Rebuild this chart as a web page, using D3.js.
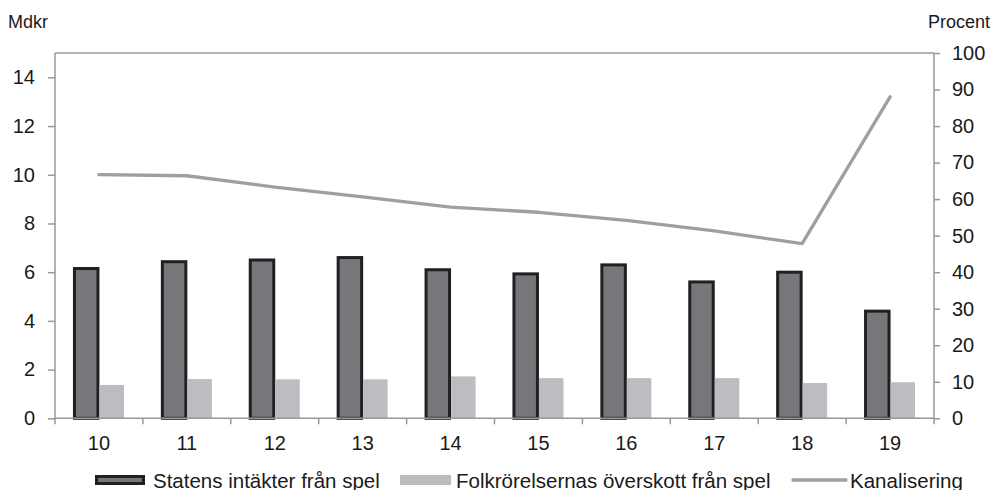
<!DOCTYPE html>
<html><head><meta charset="utf-8">
<script src="https://cdn.jsdelivr.net/npm/d3@7"></script>
<style>body{margin:0;background:#fff}svg{display:block}text{font-family:"Liberation Sans",Arial,sans-serif;fill:#1a1a1a}</style>
</head><body><svg id="c" width="992" height="490"></svg>
<script>
const categories = ["10","11","12","13","14","15","16","17","18","19"];
const statens = [6.15, 6.43, 6.5, 6.6, 6.1, 5.93, 6.3, 5.6, 6.0, 4.4];
const folkrorelser = [1.37, 1.61, 1.6, 1.6, 1.72, 1.65, 1.65, 1.65, 1.45, 1.48];
const kanalisering = [66.7, 66.4, 63.3, 60.6, 57.8, 56.4, 54.2, 51.3, 47.8, 88.0];
const leftTicks = [0,2,4,6,8,10,12,14];
const rightTicks = [0,10,20,30,40,50,60,70,80,90,100];
const seriesNames = ["Statens intäkter från spel","Folkrörelsernas överskott från spel","Kanalisering"];

const svg = d3.select("#c");
const L = 55, R = 934, T = 53, B = 418.3;
const axisCol = "#97989b";
const x = d3.scaleBand().domain(categories).range([L, R]);
const yL = d3.scaleLinear().domain([0, 15]).range([B, T]);
const yR = d3.scaleLinear().domain([0, 100]).range([B, T]);
const bw = 25;

// frame top
svg.append("line").attr("x1", L).attr("x2", R).attr("y1", T).attr("y2", T).attr("stroke", axisCol).attr("stroke-width", 1.5);

// bars
svg.selectAll(".b1").data(statens).join("rect")
  .attr("x", (d,i) => x(categories[i]) + x.bandwidth()/2 - bw + 0.5)
  .attr("y", d => yL(d))
  .attr("width", bw - 1.5)
  .attr("height", d => B - yL(d))
  .attr("fill", "#76777a").attr("stroke", "#231f20").attr("stroke-width", 3);
svg.selectAll(".b2").data(folkrorelser).join("rect")
  .attr("x", (d,i) => x(categories[i]) + x.bandwidth()/2 + 0.5)
  .attr("y", d => yL(d))
  .attr("width", bw - 0.5)
  .attr("height", d => B - yL(d))
  .attr("fill", "#bcbdc0");

// line
const line = d3.line().x((d,i) => x(categories[i]) + x.bandwidth()/2).y(d => yR(d));
svg.append("path").attr("d", line(kanalisering)).attr("fill", "none")
  .attr("stroke", "#9d9fa2").attr("stroke-width", 3.3).attr("stroke-linecap", "round").attr("stroke-linejoin", "round");

// axes
function styleAxis(g){
  g.select(".domain").remove();
  g.selectAll(".tick line").attr("stroke", axisCol).attr("stroke-width", 1.5);
  g.selectAll(".tick text").style("font-size", "20px").attr("fill", "#1a1a1a");
}
svg.append("g").attr("transform", `translate(${L},0)`)
  .call(d3.axisLeft(yL).tickValues(leftTicks).tickSize(7).tickPadding(13)).call(styleAxis);
svg.append("g").attr("transform", `translate(${R},0)`)
  .call(d3.axisRight(yR).tickValues(rightTicks).tickSize(6).tickPadding(12)).call(styleAxis);
svg.append("line").attr("x1", L).attr("x2", L).attr("y1", T).attr("y2", B + 6).attr("stroke", axisCol).attr("stroke-width", 1.5);
svg.append("line").attr("x1", R).attr("x2", R).attr("y1", T).attr("y2", B + 6).attr("stroke", axisCol).attr("stroke-width", 1.5);
svg.append("line").attr("x1", L).attr("x2", R).attr("y1", B).attr("y2", B).attr("stroke", axisCol).attr("stroke-width", 1.5);
// category boundary ticks
const bounds = categories.slice(1).map(c => x(c));
svg.selectAll(".bt").data(bounds).join("line")
  .attr("x1", d => d).attr("x2", d => d).attr("y1", B).attr("y2", B + 6)
  .attr("stroke", axisCol).attr("stroke-width", 1.5);
svg.selectAll(".cl").data(categories).join("text")
  .attr("x", d => x(d) + x.bandwidth()/2).attr("y", 450)
  .attr("text-anchor", "middle").style("font-size", "20px").text(d => d);

// axis titles
svg.append("text").attr("x", 8).attr("y", 28).style("font-size", "18px").text("Mdkr");
svg.append("text").attr("x", 990).attr("y", 28).attr("text-anchor", "end").style("font-size", "18px").text("Procent");

// legend
const ly = 480;
svg.append("rect").attr("x", 96.5).attr("y", ly - 3.5).attr("width", 47).attr("height", 7)
  .attr("fill", "#76777a").attr("stroke", "#231f20").attr("stroke-width", 3);
svg.append("text").attr("x", 153).attr("y", ly + 7.5).style("font-size", "20.5px").text(seriesNames[0]);
svg.append("rect").attr("x", 400).attr("y", ly - 5).attr("width", 51).attr("height", 10).attr("fill", "#bcbdc0");
svg.append("text").attr("x", 456).attr("y", ly + 7.5).style("font-size", "20.5px").text(seriesNames[1]);
svg.append("line").attr("x1", 793).attr("x2", 846).attr("y1", ly).attr("y2", ly)
  .attr("stroke", "#9d9fa2").attr("stroke-width", 3.3).attr("stroke-linecap", "round");
svg.append("text").attr("x", 850).attr("y", ly + 7.5).style("font-size", "20.5px").text(seriesNames[2]);
</script></body></html>
